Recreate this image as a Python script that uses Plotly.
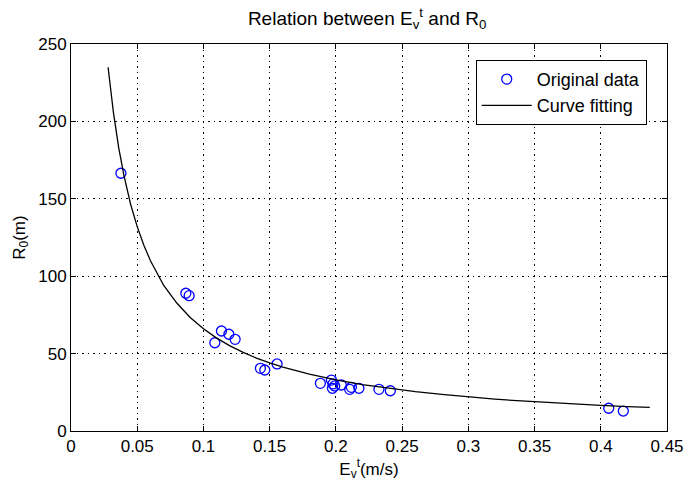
import plotly.graph_objects as go

# Original data points (E_v^t in m/s, R_0 in m)
data_x = [0.0377, 0.0867, 0.0892, 0.1086, 0.1136, 0.1192, 0.1239, 0.1430, 0.1463,
          0.1556, 0.1883, 0.1966, 0.1978, 0.1974, 0.1991, 0.2041, 0.2104, 0.2117,
          0.2174, 0.2325, 0.2411, 0.4060, 0.4170]
data_y = [166.5, 89.0, 87.4, 57.0, 64.6, 62.5, 59.2, 40.5, 39.4,
          43.3, 30.8, 32.9, 30.4, 27.6, 29.1, 29.7, 26.9, 28.2,
          27.6, 26.9, 26.0, 14.7, 12.9]

# Fitted curve
curve_x = [0.028, 0.032, 0.036, 0.040, 0.045, 0.050, 0.055, 0.060, 0.070, 0.080,
           0.090, 0.100, 0.110, 0.120, 0.130, 0.140, 0.150, 0.160, 0.180, 0.200,
           0.220, 0.240, 0.260, 0.280, 0.300, 0.320, 0.340, 0.360, 0.380, 0.400,
           0.420, 0.437]
curve_y = [235.0, 206.0, 183.0, 165.0, 146.5, 132.0, 120.0, 110.0, 94.0, 82.5,
           73.3, 66.0, 60.0, 55.0, 50.8, 47.1, 44.0, 41.3, 36.7, 33.0,
           30.0, 27.5, 25.4, 23.6, 22.0, 20.6, 19.4, 18.3, 17.4, 16.5,
           15.7, 15.2]

x_ticks = [0, 0.05, 0.1, 0.15, 0.2, 0.25, 0.3, 0.35, 0.4, 0.45]
x_tick_labels = ["0", "0.05", "0.1", "0.15", "0.2", "0.25", "0.3", "0.35", "0.4", "0.45"]
y_ticks = [0, 50, 100, 150, 200, 250]
y_tick_labels = ["0", "50", "100", "150", "200", "250"]

FONT = "Liberation Sans, Arial, sans-serif"

fig = go.Figure()
fig.add_trace(go.Scatter(
    x=data_x, y=data_y, mode="markers", name="Original data",
    marker=dict(symbol="circle-open", size=10, color="#0000ff", line=dict(width=1.3, color="#0000ff")),
))
fig.add_trace(go.Scatter(
    x=curve_x, y=curve_y, mode="lines", name="Curve fitting",
    line=dict(color="black", width=1.3),
))

axis_common = dict(
    showline=True, linecolor="black", linewidth=1, mirror="ticks",
    ticks="inside", ticklen=5, tickcolor="black",
    showgrid=True, gridcolor="black", griddash="1.5px,4px", gridwidth=1,
    zeroline=False, tickfont=dict(family=FONT, size=17, color="black"),
    automargin=False,
)

fig.update_xaxes(range=[0, 0.45], tickvals=x_ticks, ticktext=x_tick_labels,
                 title=dict(text="E<sub>v</sub><sup>t</sup>(m/s)", font=dict(family=FONT, size=17, color="black"), standoff=4),
                 **axis_common)
fig.update_yaxes(range=[0, 250], tickvals=y_ticks, ticktext=y_tick_labels,
                 title=dict(text="R<sub>0</sub>(m)", font=dict(family=FONT, size=17, color="black"), standoff=8),
                 **axis_common)

fig.update_layout(
    width=685, height=491,
    margin=dict(l=71, r=18, t=44, b=60),
    paper_bgcolor="white", plot_bgcolor="white",
    title=dict(text="Relation between E<sub>v</sub><sup>t</sup> and R<sub>0</sub>",
               x=0.536, xanchor="center", y=0.976, yanchor="top",
               font=dict(family=FONT, size=19, color="black")),
    font=dict(family=FONT, size=17, color="black"),
    legend=dict(x=0.966, y=0.959, xanchor="right", yanchor="top",
                bgcolor="white", bordercolor="black", borderwidth=1,
                itemwidth=50, tracegroupgap=0,
                font=dict(family=FONT, size=18, color="black")),
    showlegend=True,
)

fig.write_html("out.html", config={"displayModeBar": False},
               post_script="document.body.style.margin='0px';")
